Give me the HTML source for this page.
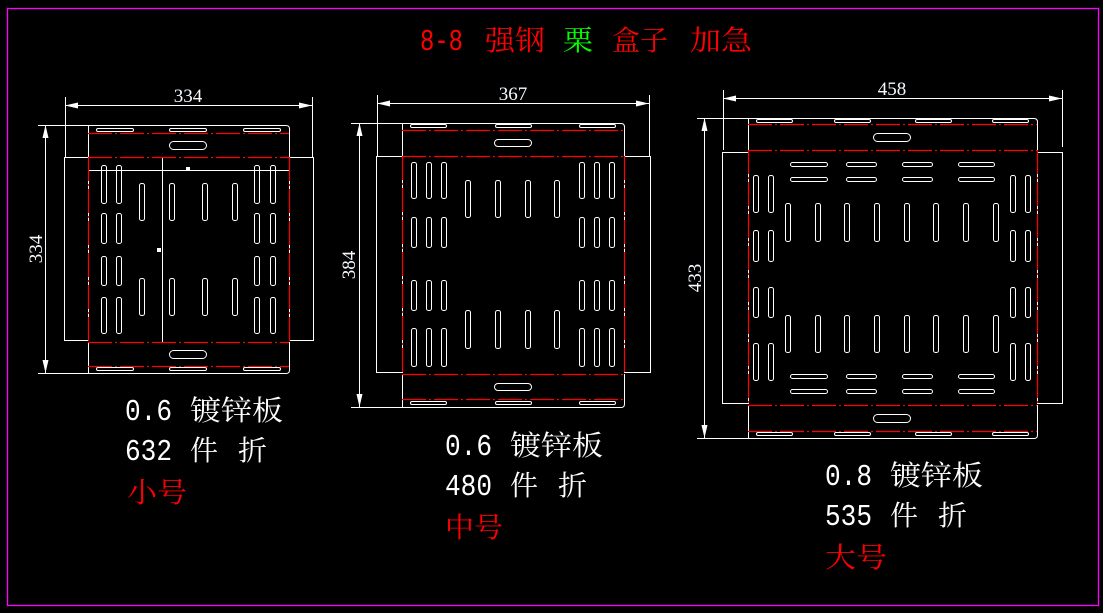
<!DOCTYPE html>
<html><head><meta charset="utf-8"><style>
html,body{margin:0;padding:0;background:#000;}
svg{display:block;}
</style></head><body>
<svg width="1103" height="613" viewBox="0 0 1103 613" xmlns="http://www.w3.org/2000/svg">
<rect x="0" y="0" width="1103" height="613" fill="#000"/>
<rect x="7.5" y="8.5" width="1091" height="597" fill="none" stroke="#ff00ff" stroke-width="1.3"/>

<!-- Title -->
<g font-family="'Liberation Serif','Noto Serif CJK SC',serif" font-size="28" fill="#ff0000">
<text x="420" y="50" textLength="43" lengthAdjust="spacingAndGlyphs" font-family="'Liberation Mono',monospace" font-size="31">8-8</text>
<text x="485" y="50" textLength="60" lengthAdjust="spacingAndGlyphs">强钢</text>
<text x="563" y="50" textLength="30" lengthAdjust="spacingAndGlyphs" fill="#00ff00">栗</text>
<text x="612" y="50" textLength="56" lengthAdjust="spacingAndGlyphs">盒子</text>
<text x="690" y="50" textLength="62" lengthAdjust="spacingAndGlyphs">加急</text>
</g>

<!-- White structure lines -->
<g stroke="#fff" stroke-width="1" fill="none">
<!-- LEFT -->
<path d="M65 105.5H312 M65.5 97V158 M312.5 97V157 M45.5 125V373"/>
<path d="M38 125.5H286Q289.5 125.5 289.5 129V157 M88.5 125V157"/>
<path d="M38 373.5H286Q289.5 373.5 289.5 370V342 M88.5 342V373"/>
<rect x="64.5" y="157.5" width="24" height="183"/>
<rect x="289.5" y="157.5" width="24" height="183"/>
<path d="M162.5 157V342 M88 170.5H289"/>
<!-- MIDDLE -->
<path d="M377 103.5H649 M377.5 95V156 M649.5 95V156 M359.5 123V407"/>
<path d="M351 123.5H621Q624.5 123.5 624.5 127V156 M402.5 123V156"/>
<path d="M351 407.5H621Q624.5 407.5 624.5 404V374 M402.5 374V407"/>
<rect x="376.5" y="156.5" width="26" height="216"/>
<rect x="624.5" y="156.5" width="26" height="216"/>
<!-- RIGHT -->
<path d="M723 98.5H1062 M723.5 90V150 M1062.5 90V147 M704.5 118V438"/>
<path d="M697 118.5H1034Q1037.5 118.5 1037.5 122V150 M748.5 118V150"/>
<path d="M697 438.5H1034Q1037.5 438.5 1037.5 435V405 M748.5 405V438"/>
<rect x="722.5" y="152.5" width="26" height="251"/>
<rect x="1037.5" y="152.5" width="25" height="251"/>
</g>

<!-- arrows -->
<g fill="#fff">
<polygon points="65,105.5 78,102.5 78,108.5"/>
<polygon points="312,105.5 299,102.5 299,108.5"/>
<polygon points="45.5,125 42.5,138 48.5,138"/>
<polygon points="45.5,373 42.5,360 48.5,360"/>
<polygon points="377,103.5 390,100.5 390,106.5"/>
<polygon points="649,103.5 636,100.5 636,106.5"/>
<polygon points="359.5,123 356.5,136 362.5,136"/>
<polygon points="359.5,407 356.5,394 362.5,394"/>
<polygon points="723,98.5 736,95.5 736,101.5"/>
<polygon points="1062,98.5 1049,95.5 1049,101.5"/>
<polygon points="704.5,118 701.5,131 707.5,131"/>
<polygon points="704.5,438 701.5,425 707.5,425"/>
<rect x="186" y="167" width="4" height="4"/>
<rect x="157" y="248" width="4" height="4"/>
</g>

<!-- Red dash-dot fold lines -->
<g stroke="#ff0000" stroke-width="1.2" fill="none" stroke-dasharray="24 3 2 3">
<path d="M88 133.5H289 M88 157.5H289 M88 342.5H289 M88 366.5H289 M88.5 157V342 M289.5 157V342"/>
<path d="M402 130.5H624 M402 156.5H624 M402 374.5H624 M402 399.5H624 M402.5 156V374 M624.5 156V374"/>
<path d="M748 124.5H1037 M748 150.5H1037 M748 405.5H1037 M748 431.5H1037 M748.5 150V405 M1037.5 150V405"/>
</g>

<!-- Slots -->
<g stroke="#fff" stroke-width="1" fill="none">
<!-- LEFT top/bottom -->
<rect x="96.5" y="128.5" width="37" height="3" rx="1.5"/>
<rect x="169.5" y="128.5" width="37" height="3" rx="1.5"/>
<rect x="243.5" y="128.5" width="37" height="3" rx="1.5"/>
<rect x="169.5" y="141.5" width="37" height="8" rx="4"/>
<rect x="169.5" y="350.5" width="37" height="8" rx="4"/>
<rect x="96.5" y="367.5" width="37" height="3" rx="1.5"/>
<rect x="169.5" y="367.5" width="37" height="3" rx="1.5"/>
<rect x="243.5" y="367.5" width="37" height="3" rx="1.5"/>
<!-- LEFT side columns -->
<rect x="101.5" y="165.5" width="5" height="38" rx="2"/><rect x="116.5" y="165.5" width="5" height="38" rx="2"/>
<rect x="254.5" y="165.5" width="5" height="38" rx="2"/><rect x="270.5" y="165.5" width="5" height="38" rx="2"/>
<rect x="101.5" y="213.5" width="5" height="30" rx="2"/><rect x="116.5" y="213.5" width="5" height="30" rx="2"/>
<rect x="254.5" y="213.5" width="5" height="30" rx="2"/><rect x="270.5" y="213.5" width="5" height="30" rx="2"/>
<rect x="101.5" y="256.5" width="5" height="29" rx="2"/><rect x="116.5" y="256.5" width="5" height="29" rx="2"/>
<rect x="254.5" y="256.5" width="5" height="29" rx="2"/><rect x="270.5" y="256.5" width="5" height="29" rx="2"/>
<rect x="101.5" y="297.5" width="5" height="36" rx="2"/><rect x="116.5" y="297.5" width="5" height="36" rx="2"/>
<rect x="254.5" y="297.5" width="5" height="36" rx="2"/><rect x="270.5" y="297.5" width="5" height="36" rx="2"/>
<!-- LEFT inner -->
<rect x="139.5" y="183.5" width="5" height="37" rx="2"/><rect x="169.5" y="183.5" width="5" height="37" rx="2"/>
<rect x="202.5" y="183.5" width="5" height="37" rx="2"/><rect x="232.5" y="183.5" width="5" height="37" rx="2"/>
<rect x="139.5" y="278.5" width="5" height="37" rx="2"/><rect x="169.5" y="278.5" width="5" height="37" rx="2"/>
<rect x="202.5" y="278.5" width="5" height="37" rx="2"/><rect x="232.5" y="278.5" width="5" height="37" rx="2"/>

<!-- MIDDLE top/bottom -->
<rect x="410.5" y="124.5" width="36" height="3" rx="1.5"/>
<rect x="495.5" y="124.5" width="36" height="3" rx="1.5"/>
<rect x="579.5" y="124.5" width="36" height="3" rx="1.5"/>
<rect x="494.5" y="139.5" width="37" height="7" rx="3.5"/>
<rect x="494.5" y="383.5" width="37" height="7" rx="3.5"/>
<rect x="410.5" y="401.5" width="36" height="3" rx="1.5"/>
<rect x="495.5" y="401.5" width="36" height="3" rx="1.5"/>
<rect x="579.5" y="401.5" width="36" height="3" rx="1.5"/>
<!-- MIDDLE side columns -->
<rect x="411.5" y="162.5" width="5" height="36" rx="2"/><rect x="426.5" y="162.5" width="5" height="36" rx="2"/><rect x="441.5" y="162.5" width="5" height="36" rx="2"/>
<rect x="579.5" y="162.5" width="5" height="36" rx="2"/><rect x="594.5" y="162.5" width="5" height="36" rx="2"/><rect x="609.5" y="162.5" width="5" height="36" rx="2"/>
<rect x="411.5" y="217.5" width="5" height="30" rx="2"/><rect x="426.5" y="217.5" width="5" height="30" rx="2"/><rect x="441.5" y="217.5" width="5" height="30" rx="2"/>
<rect x="579.5" y="217.5" width="5" height="30" rx="2"/><rect x="594.5" y="217.5" width="5" height="30" rx="2"/><rect x="609.5" y="217.5" width="5" height="30" rx="2"/>
<rect x="411.5" y="280.5" width="5" height="30" rx="2"/><rect x="426.5" y="280.5" width="5" height="30" rx="2"/><rect x="441.5" y="280.5" width="5" height="30" rx="2"/>
<rect x="579.5" y="280.5" width="5" height="30" rx="2"/><rect x="594.5" y="280.5" width="5" height="30" rx="2"/><rect x="609.5" y="280.5" width="5" height="30" rx="2"/>
<rect x="411.5" y="328.5" width="5" height="38" rx="2"/><rect x="426.5" y="328.5" width="5" height="38" rx="2"/><rect x="441.5" y="328.5" width="5" height="38" rx="2"/>
<rect x="579.5" y="328.5" width="5" height="38" rx="2"/><rect x="594.5" y="328.5" width="5" height="38" rx="2"/><rect x="609.5" y="328.5" width="5" height="38" rx="2"/>
<!-- MIDDLE inner -->
<rect x="465.5" y="180.5" width="5" height="37" rx="2"/><rect x="495.5" y="180.5" width="5" height="37" rx="2"/>
<rect x="525.5" y="180.5" width="5" height="37" rx="2"/><rect x="554.5" y="180.5" width="5" height="37" rx="2"/>
<rect x="465.5" y="310.5" width="5" height="38" rx="2"/><rect x="495.5" y="310.5" width="5" height="38" rx="2"/>
<rect x="525.5" y="310.5" width="5" height="38" rx="2"/><rect x="554.5" y="310.5" width="5" height="38" rx="2"/>

<!-- RIGHT top/bottom -->
<rect x="756.5" y="119.5" width="36" height="3" rx="1.5"/>
<rect x="834.5" y="119.5" width="36" height="3" rx="1.5"/>
<rect x="915.5" y="119.5" width="36" height="3" rx="1.5"/>
<rect x="992.5" y="119.5" width="36" height="3" rx="1.5"/>
<rect x="873.5" y="133.5" width="37" height="8" rx="4"/>
<rect x="873.5" y="414.5" width="37" height="8" rx="4"/>
<rect x="756.5" y="432.5" width="36" height="3" rx="1.5"/>
<rect x="834.5" y="432.5" width="36" height="3" rx="1.5"/>
<rect x="915.5" y="432.5" width="36" height="3" rx="1.5"/>
<rect x="992.5" y="432.5" width="36" height="3" rx="1.5"/>
<!-- RIGHT horizontal slots -->
<rect x="790.5" y="162.5" width="37" height="4" rx="2"/><rect x="846.5" y="162.5" width="30" height="4" rx="2"/><rect x="902.5" y="162.5" width="30" height="4" rx="2"/><rect x="958.5" y="162.5" width="36" height="4" rx="2"/>
<rect x="790.5" y="177.5" width="37" height="4" rx="2"/><rect x="846.5" y="177.5" width="30" height="4" rx="2"/><rect x="902.5" y="177.5" width="30" height="4" rx="2"/><rect x="958.5" y="177.5" width="36" height="4" rx="2"/>
<rect x="790.5" y="374.5" width="37" height="4" rx="2"/><rect x="846.5" y="374.5" width="30" height="4" rx="2"/><rect x="902.5" y="374.5" width="30" height="4" rx="2"/><rect x="958.5" y="374.5" width="36" height="4" rx="2"/>
<rect x="790.5" y="389.5" width="37" height="4" rx="2"/><rect x="846.5" y="389.5" width="30" height="4" rx="2"/><rect x="902.5" y="389.5" width="30" height="4" rx="2"/><rect x="958.5" y="389.5" width="36" height="4" rx="2"/>
<!-- RIGHT side columns -->
<rect x="753.5" y="175.5" width="5" height="37" rx="2"/><rect x="768.5" y="175.5" width="5" height="37" rx="2"/>
<rect x="1010.5" y="175.5" width="5" height="37" rx="2"/><rect x="1025.5" y="175.5" width="5" height="37" rx="2"/>
<rect x="753.5" y="230.5" width="5" height="31" rx="2"/><rect x="768.5" y="230.5" width="5" height="31" rx="2"/>
<rect x="1010.5" y="230.5" width="5" height="31" rx="2"/><rect x="1025.5" y="230.5" width="5" height="31" rx="2"/>
<rect x="753.5" y="287.5" width="5" height="30" rx="2"/><rect x="768.5" y="287.5" width="5" height="30" rx="2"/>
<rect x="1010.5" y="287.5" width="5" height="30" rx="2"/><rect x="1025.5" y="287.5" width="5" height="30" rx="2"/>
<rect x="753.5" y="343.5" width="5" height="37" rx="2"/><rect x="768.5" y="343.5" width="5" height="37" rx="2"/>
<rect x="1010.5" y="343.5" width="5" height="37" rx="2"/><rect x="1025.5" y="343.5" width="5" height="37" rx="2"/>
<!-- RIGHT inner -->
<rect x="785.5" y="203.5" width="5" height="38" rx="2"/><rect x="815.5" y="203.5" width="5" height="38" rx="2"/>
<rect x="844.5" y="203.5" width="5" height="38" rx="2"/><rect x="874.5" y="203.5" width="5" height="38" rx="2"/>
<rect x="904.5" y="203.5" width="5" height="38" rx="2"/><rect x="933.5" y="203.5" width="5" height="38" rx="2"/>
<rect x="963.5" y="203.5" width="5" height="38" rx="2"/><rect x="993.5" y="203.5" width="5" height="38" rx="2"/>
<rect x="785.5" y="315.5" width="5" height="37" rx="2"/><rect x="815.5" y="315.5" width="5" height="37" rx="2"/>
<rect x="844.5" y="315.5" width="5" height="37" rx="2"/><rect x="874.5" y="315.5" width="5" height="37" rx="2"/>
<rect x="904.5" y="315.5" width="5" height="37" rx="2"/><rect x="933.5" y="315.5" width="5" height="37" rx="2"/>
<rect x="963.5" y="315.5" width="5" height="37" rx="2"/><rect x="993.5" y="315.5" width="5" height="37" rx="2"/>
</g>

<!-- Dimension texts -->
<g font-family="'Liberation Serif',serif" font-size="19" fill="#f4faff" text-anchor="middle">
<text x="188" y="102">334</text>
<text x="513" y="100">367</text>
<text x="892" y="95">458</text>
<text transform="translate(42,249) rotate(-90)">334</text>
<text transform="translate(355,265) rotate(-90)">384</text>
<text transform="translate(701,278) rotate(-90)">433</text>
</g>

<!-- Notes: digits -->
<g font-family="'Liberation Mono',monospace" font-size="31" fill="#fff">
<text x="125" y="420" textLength="47" lengthAdjust="spacingAndGlyphs">0.6</text>
<text x="125" y="460" textLength="47" lengthAdjust="spacingAndGlyphs">632</text>
<text x="445" y="455" textLength="47" lengthAdjust="spacingAndGlyphs">0.6</text>
<text x="445" y="495" textLength="47" lengthAdjust="spacingAndGlyphs">480</text>
<text x="825" y="485" textLength="47" lengthAdjust="spacingAndGlyphs">0.8</text>
<text x="825" y="525" textLength="47" lengthAdjust="spacingAndGlyphs">535</text>
</g>

<!-- Notes: CJK -->
<g font-family="'Liberation Serif','Noto Serif CJK SC',serif" font-size="28" fill="#fff">
<text x="190" y="420" textLength="93" lengthAdjust="spacingAndGlyphs">镀锌板</text>
<text x="190" y="460" textLength="28" lengthAdjust="spacingAndGlyphs">件</text>
<text x="238" y="460" textLength="29" lengthAdjust="spacingAndGlyphs">折</text>
<text x="127" y="502" textLength="60" lengthAdjust="spacingAndGlyphs" fill="#ff0000">小号</text>

<text x="510" y="455" textLength="93" lengthAdjust="spacingAndGlyphs">镀锌板</text>
<text x="510" y="495" textLength="28" lengthAdjust="spacingAndGlyphs">件</text>
<text x="558" y="495" textLength="29" lengthAdjust="spacingAndGlyphs">折</text>
<text x="445" y="537" textLength="58" lengthAdjust="spacingAndGlyphs" fill="#ff0000">中号</text>

<text x="890" y="485" textLength="93" lengthAdjust="spacingAndGlyphs">镀锌板</text>
<text x="890" y="525" textLength="28" lengthAdjust="spacingAndGlyphs">件</text>
<text x="938" y="525" textLength="29" lengthAdjust="spacingAndGlyphs">折</text>
<text x="825" y="567" textLength="62" lengthAdjust="spacingAndGlyphs" fill="#ff0000">大号</text>
</g>
</svg>
</body></html>
